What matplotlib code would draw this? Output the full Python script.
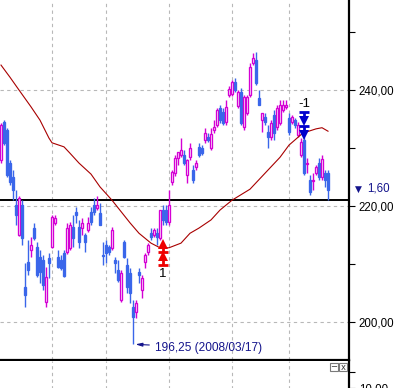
import matplotlib
matplotlib.use('Agg')
import matplotlib.pyplot as plt
from matplotlib.patches import Rectangle
from matplotlib.ticker import FixedLocator, FuncFormatter, NullFormatter
import matplotlib.transforms as mtransforms

# daily candles (oldest -> newest)
opens = [227.9, 234.5, 233.1, 227.4, 225.0, 220.2, 215.0, 220.2, 206.0, 210.3,
         212.4, 216.2, 212.9, 211.2, 210.7, 203.5, 211.0, 212.9, 217.1, 211.2,
         210.7, 211.9, 212.1, 212.8, 216.4, 219.0, 216.4, 216.2, 215.0, 215.9,
         219.0, 220.2, 219.7, 218.8, 211.5, 213.3, 212.9, 212.8, 210.7, 209.0,
         203.8, 213.8, 209.8, 208.5, 202.6, 201.7, 208.6, 205.5, 210.3, 212.1,
         215.3, 215.0, 215.3, 214.5, 219.3, 219.3, 217.2, 224.1, 225.7, 228.3,
         228.8, 228.8, 225.4, 228.4, 226.2, 226.7, 230.2, 230.0, 231.4, 231.9,
         230.0, 233.1, 234.0, 236.9, 236.2, 234.5, 239.1, 239.3, 241.4, 237.2,
         239.7, 233.6, 236.0, 239.1, 244.7, 245.2, 238.6, 234.8, 235.3, 232.8,
         231.9, 235.7, 233.6, 234.3, 236.6, 237.1, 235.2, 234.5, 234.8, 232.3,
         228.8, 231.4, 227.2, 224.5, 224.3, 225.7, 227.4, 225.0, 225.7, 225.7]
highs = [234.3, 234.8, 233.4, 227.9, 226.2, 222.8, 221.7, 221.0, 210.2, 214.1,
         214.7, 217.1, 213.8, 212.4, 211.5, 209.5, 211.9, 218.5, 218.5, 212.4,
         211.5, 212.4, 217.1, 217.2, 218.5, 219.8, 217.6, 217.9, 215.3, 218.1,
         219.8, 221.4, 221.7, 220.5, 213.8, 214.1, 213.3, 216.4, 211.2, 210.7,
         209.0, 214.1, 211.0, 209.3, 203.8, 203.8, 209.3, 208.1, 211.9, 213.6,
         216.2, 216.2, 216.2, 219.3, 220.2, 220.2, 222.8, 226.2, 228.8, 229.3,
         231.7, 229.7, 228.1, 230.9, 227.1, 227.9, 230.9, 230.5, 233.4, 232.6,
         233.4, 234.8, 236.9, 237.4, 236.9, 238.3, 240.7, 241.7, 242.1, 240.0,
         240.3, 239.1, 239.1, 244.7, 246.4, 246.6, 240.0, 236.0, 236.0, 234.0,
         234.8, 236.6, 237.4, 238.3, 238.3, 238.3, 236.0, 235.7, 235.2, 234.5,
         231.7, 231.9, 228.3, 225.4, 225.7, 227.1, 228.3, 228.8, 226.2, 226.2]
lows = [227.4, 230.5, 225.0, 223.6, 221.0, 216.7, 214.8, 213.3, 202.6, 208.1,
        211.2, 214.1, 207.8, 206.7, 205.5, 202.6, 207.6, 212.8, 216.7, 209.3,
        209.0, 207.8, 211.7, 212.4, 212.9, 217.1, 212.8, 215.0, 212.1, 215.5,
        216.7, 218.5, 219.3, 216.7, 209.8, 210.2, 211.5, 212.4, 208.5, 206.9,
        203.5, 211.0, 205.0, 203.3, 196.25, 200.7, 206.7, 204.1, 209.3, 211.5,
        214.1, 214.7, 213.3, 214.1, 216.7, 216.7, 216.7, 223.6, 225.2, 227.1,
        228.4, 227.1, 224.0, 227.9, 224.0, 226.2, 228.4, 228.8, 230.9, 231.0,
        229.7, 232.6, 233.6, 234.3, 234.0, 234.0, 238.8, 239.0, 239.7, 236.9,
        234.0, 233.1, 235.7, 238.8, 244.3, 240.9, 237.4, 232.8, 234.0, 230.0,
        231.4, 231.4, 233.1, 234.0, 236.2, 236.7, 232.3, 234.1, 233.4, 231.9,
        228.4, 225.4, 225.7, 221.9, 222.8, 225.4, 224.5, 224.5, 223.3, 221.0]
closes = [234.0, 230.9, 225.4, 224.1, 222.8, 218.5, 221.4, 214.5, 204.7, 209.0,
          213.3, 214.5, 208.1, 208.6, 206.4, 207.8, 210.2, 218.1, 217.9, 209.5,
          209.3, 207.9, 216.2, 216.7, 214.5, 218.5, 213.8, 217.1, 213.8, 217.1,
          217.2, 219.0, 220.2, 216.7, 211.4, 211.9, 212.1, 215.9, 210.2, 207.3,
          208.5, 211.2, 206.0, 205.0, 200.9, 203.3, 208.1, 207.6, 211.5, 213.3,
          214.7, 215.9, 214.7, 219.3, 217.6, 217.2, 220.2, 225.9, 228.3, 229.3,
          229.7, 227.4, 227.9, 230.0, 224.5, 227.4, 228.8, 229.1, 232.6, 231.4,
          232.4, 233.6, 236.6, 234.8, 234.3, 237.1, 240.2, 241.4, 240.0, 239.7,
          234.3, 238.8, 238.8, 244.0, 245.5, 241.2, 237.4, 236.0, 234.5, 231.9,
          234.3, 232.6, 236.9, 237.4, 237.4, 237.4, 232.8, 235.3, 234.0, 234.0,
          231.0, 225.7, 227.4, 222.4, 224.5, 226.7, 225.0, 228.1, 224.5, 222.8]

# moving average, read at a few bars
ma_idx = [0, 3, 6, 10, 13, 16, 17, 21, 23, 26, 30, 33, 37, 43, 46, 50, 53,
          56, 60, 63, 66, 70, 73, 77, 83, 89, 93, 96, 100, 102, 105, 107, 109]
ma_val = [244.3, 242.2, 240.0, 237.1, 234.8, 231.7, 230.9, 230.2, 229.1, 227.4,
          225.5, 223.3, 221.0, 217.1, 215.3, 213.6, 212.8, 212.8, 213.6, 215.3,
          216.2, 217.6, 219.3, 221.0, 222.9, 226.2, 228.4, 230.5, 232.3, 232.8,
          233.3, 233.5, 232.9]

month_starts = [17, 35, 56, 77, 96]
ref_price = 221.0
low_idx, low_price, low_date = 44, 196.25, '2008/03/17'
change = 1.60
buy_idx, buy_levels = 54, [213.8, 211.6]
sell_idx, sell_levels = 101, [236.2, 233.8]

UP = '#d400d4'
DOWN = '#3a66ea'
NAVY = '#14148c'
GRID = '#b8b8b8'
FONT = ['Liberation Sans', 'DejaVu Sans']
FS = 8


def fmt(v, pos=None):
    return '{:.2f}'.format(v).replace('.', ',')


def arrow(x, tail, tip, color):
    # shaft, head at tip, bar at tail
    step = 0.55 if tip > tail else -0.55
    ax.plot([x, x], [tail, tip - step], color=color, lw=2.0, solid_capstyle='butt', zorder=6)
    ax.plot([x], [tip - step / 2], marker='^' if tip > tail else 'v', ms=7, mew=0,
            color=color, zorder=6)
    ax.plot([x], [tail], marker='_', ms=6.5, mew=2.0, color=color, zorder=6)


fig = plt.figure(figsize=(4.0, 3.88), dpi=100)
ax = fig.add_axes([0, 28 / 388, 349 / 400, 360 / 388])
ax2 = fig.add_axes([0, -32 / 388, 349 / 400, 59 / 388])

# candles
for i, (o, h, l, c) in enumerate(zip(opens, highs, lows, closes)):
    col = UP if c >= o else DOWN
    ax.vlines(i, l, h, color=col, lw=1.0, zorder=3)
    lo, hi = min(o, c), max(o, c)
    ax.add_patch(Rectangle((i - 0.36, lo), 0.72, max(hi - lo, 0.05),
                           facecolor='white' if c >= o else DOWN,
                           edgecolor=col, lw=0.95, zorder=4))

ax.plot(ma_idx, ma_val, color='#a80000', lw=0.8, zorder=5)
ax.axhline(ref_price, color='black', lw=1.4, zorder=2)

# buy / sell signals
for y in buy_levels:
    arrow(buy_idx, y - 1.75, y, '#ee0000')
ax.text(buy_idx, buy_levels[-1] - 3.3, '1', ha='center', va='center', fontsize=9.5, family=FONT)
for y in sell_levels:
    arrow(sell_idx, y, y - 1.75, '#0000cc')
ax.text(sell_idx, sell_levels[0] + 1.4, '-1', ha='center', va='center', fontsize=9.5, family=FONT)

# lowest point note
ax.annotate('{} ({})'.format(fmt(low_price), low_date), xy=(low_idx + 0.8, low_price - 0.1),
            xytext=(14, -2.5), textcoords='offset points', ha='left', va='center',
            fontsize=8.6, color=NAVY, family=FONT,
            arrowprops=dict(arrowstyle='-|>,head_width=0.12,head_length=0.45',
                            color=NAVY, lw=0.8, shrinkA=2, shrinkB=0))

# current change
trans = mtransforms.blended_transform_factory(ax.transAxes, ax.transData)
ax.text(1.017, closes[-1] + 0.15, '▼', transform=trans, ha='left', va='center',
        fontsize=6.5, color=NAVY, clip_on=False)
ax.text(1.052, closes[-1] + 0.15, fmt(change), transform=trans, ha='left', va='center',
        fontsize=8.3, color=NAVY, family=FONT, clip_on=False)

for a in (ax, ax2):
    a.set_xlim(-1 / 3, 116)
    a.set_xticks(month_starts)
    a.xaxis.set_major_formatter(NullFormatter())
    a.tick_params(axis='x', length=0)
    a.grid(axis='x', color=GRID, lw=0.8, linestyle=(0, (3, 3)))
    a.set_axisbelow(True)
    for s in ('left', 'top'):
        a.spines[s].set_visible(False)
    a.spines['right'].set_linewidth(1.6)
    a.yaxis.tick_right()
    a.tick_params(axis='y', which='both', length=4, width=0.8, pad=3, labelsize=8.3)

ax.set_ylim(193.45, 255.52)
ax.yaxis.set_major_locator(FixedLocator([200, 220, 240]))
ax.yaxis.set_minor_locator(FixedLocator([210, 230, 250]))
ax.yaxis.set_major_formatter(FuncFormatter(fmt))
ax.grid(axis='y', which='major', color=GRID, lw=0.8, linestyle=(0, (3, 3)))
ax.spines['bottom'].set_linewidth(1.6)

ax2.set_ylim(0, 18.44)
ax2.spines['bottom'].set_visible(False)
ax2.yaxis.set_major_locator(FixedLocator([10]))
ax2.yaxis.set_minor_locator(FixedLocator([15]))
ax2.yaxis.set_major_formatter(FuncFormatter(fmt))
for lab in ax.get_yticklabels() + ax2.get_yticklabels():
    lab.set_family(FONT)

# panel buttons
for k, sym in enumerate(['−', 'x']):
    x0 = (330 + 9 * k) / 400
    fig.add_artist(Rectangle((x0, 17 / 388), 8 / 400, 8 / 388, transform=fig.transFigure,
                             facecolor='white', edgecolor='#7a7a7a', lw=0.8))
    fig.text(x0 + 4 / 400, 21 / 388, sym, ha='center', va='center', fontsize=6, color='#333333')

fig.savefig('out.png', dpi=100)
